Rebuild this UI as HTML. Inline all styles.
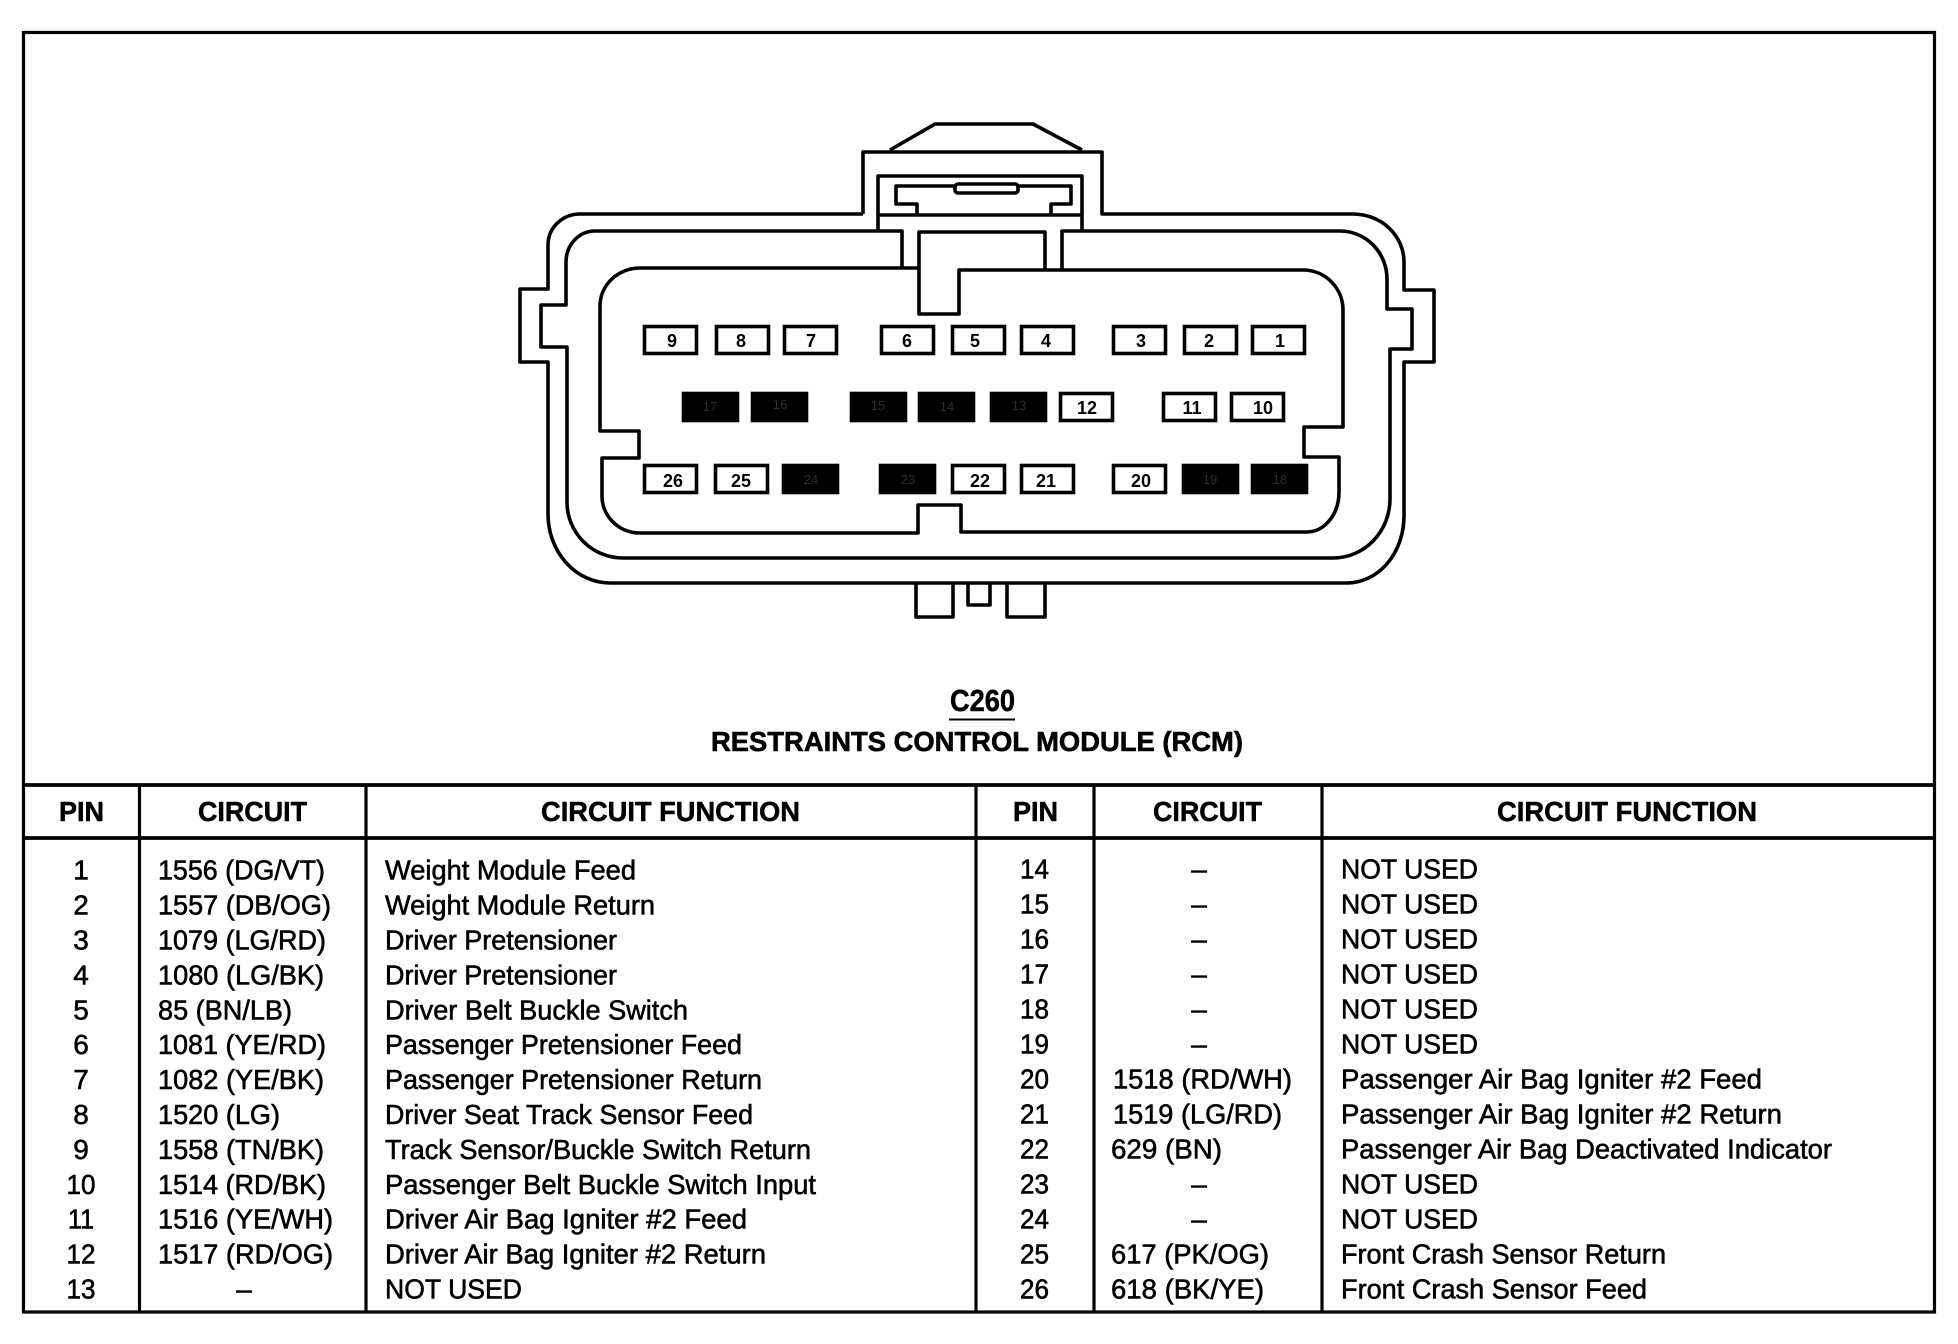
<!DOCTYPE html>
<html><head><meta charset="utf-8"><title>C260 Restraints Control Module (RCM)</title>
<style>
html,body{margin:0;padding:0;background:#fff}
svg{display:block}
text{font-family:"Liberation Sans",sans-serif;fill:#000}
.l{fill:none;stroke:#000;stroke-width:3.6;stroke-linejoin:round}
.t text{font-size:28px;stroke:#000;stroke-width:.6}
.h text{font-size:28px;font-weight:bold;stroke:#000;stroke-width:.5}
.c{text-anchor:middle}
.p rect{fill:#fff;stroke:#000;stroke-width:3.6}
.p text{font-size:18px;font-weight:bold;text-anchor:middle}
.b rect{fill:#000;stroke:#000;stroke-width:3.6}
.b text{font-size:13px;text-anchor:middle;fill:#2e2e2e}
</style></head><body>
<svg xmlns="http://www.w3.org/2000/svg" width="1958" height="1344" viewBox="0 0 1958 1344">
<rect width="1958" height="1344" fill="#fff"/>
<!-- frame and table -->
<g fill="none" stroke="#000">
<rect x="23.5" y="32.5" width="1911" height="1279.5" stroke-width="3.2"/>
<path d="M23 785H1934M23 838H1934" stroke-width="3.8"/>
<path d="M139.500 785V1312M366 785V1312M976 785V1312M1094 785V1312M1322 785V1312" stroke-width="3.2"/>
</g>
<!-- connector -->
<path class="l" d="M890 150L935 124H1033L1082 150"/>
<path class="l" d="M863 214V152H1102V214H1353A51 48 0 0 1 1404 262V290H1434V362H1404V516A57 67 0 0 1 1347 583H610A62 69 0 0 1 548 514V362H520V289H548V245A32 31 0 0 1 580 214H863"/>
<path class="l" d="M902 268V231H595A29 31 0 0 0 566 262V305H541V347H567V502A56 56 0 0 0 623 558H1333A57 59 0 0 0 1390 499V349H1412V309H1387V279A47 48 0 0 0 1340 231H1062V269"/>
<path class="l" d="M919 268H640A40 38 0 0 0 600 306V431H639V458H602V496A38 37 0 0 0 640 533H918V505H961V532H1307A32 40 0 0 0 1339 492V457H1304V427H1343V310A40 40 0 0 0 1303 270H959V314H919V232H1045V269"/>
<path class="l" d="M878 231V176H1082V231M878 215H1082"/>
<path class="l" d="M917 215V204H896V186H955M1018 186H1071V204H1051V215"/>
<rect x="955" y="184" width="63" height="9" rx="3" fill="#fff" stroke="#000" stroke-width="3.600"/>
<path class="l" d="M916 583V617H953V583M968 583V605H990V583M1007 583V617H1045V583"/>
<!-- white pins -->
<g class="p">
<rect x="644.500" y="326.500" width="52" height="27"/><text x="672" y="347">9</text>
<rect x="716.500" y="326.500" width="52" height="27"/><text x="741" y="347">8</text>
<rect x="784.500" y="326.500" width="52" height="27"/><text x="811" y="347">7</text>
<rect x="881.500" y="326.500" width="52" height="27"/><text x="907" y="347">6</text>
<rect x="952.500" y="326.500" width="52" height="27"/><text x="975" y="347">5</text>
<rect x="1021.500" y="326.500" width="52" height="27"/><text x="1046" y="347">4</text>
<rect x="1113.500" y="326.500" width="52" height="27"/><text x="1141" y="347">3</text>
<rect x="1184.500" y="326.500" width="52" height="27"/><text x="1209" y="347">2</text>
<rect x="1252.500" y="326.500" width="52" height="27"/><text x="1280" y="347">1</text>
<rect x="1060.500" y="393.500" width="52" height="27"/><text x="1087" y="414">12</text>
<rect x="1163.500" y="393.500" width="52" height="27"/><text x="1192" y="414">11</text>
<rect x="1231.500" y="393.500" width="52" height="27"/><text x="1263" y="414">10</text>
<rect x="644.500" y="465.500" width="52" height="27"/><text x="673" y="487">26</text>
<rect x="715.500" y="465.500" width="52" height="27"/><text x="741" y="487">25</text>
<rect x="952.500" y="465.500" width="52" height="27"/><text x="980" y="487">22</text>
<rect x="1021.500" y="465.500" width="52" height="27"/><text x="1046" y="487">21</text>
<rect x="1113.500" y="465.500" width="52" height="27"/><text x="1141" y="487">20</text>
</g>
<!-- black pins -->
<g class="b">
<rect x="683.500" y="393.500" width="54" height="27"/><text x="710" y="411">17</text>
<rect x="752.500" y="393.500" width="54" height="27"/><text x="780" y="409">16</text>
<rect x="851.500" y="393.500" width="54" height="27"/><text x="878" y="410">15</text>
<rect x="919.500" y="393.500" width="54" height="27"/><text x="947" y="411">14</text>
<rect x="991.500" y="393.500" width="54" height="27"/><text x="1019" y="410">13</text>
<rect x="783.500" y="465.500" width="54" height="27"/><text x="811" y="484">24</text>
<rect x="880.500" y="465.500" width="54" height="27"/><text x="908" y="484">23</text>
<rect x="1183.500" y="465.500" width="54" height="27"/><text x="1210" y="484">19</text>
<rect x="1252.500" y="465.500" width="54" height="27"/><text x="1280" y="484">18</text>
</g>
<!-- title -->
<text x="950" y="711" font-size="31" font-weight="bold" stroke="#000" stroke-width=".5" textLength="65" lengthAdjust="spacingAndGlyphs">C260</text>
<rect x="949" y="718.500" width="66" height="2" fill="#000"/>
<text x="711" y="751" font-size="28" font-weight="bold" stroke="#000" stroke-width=".6" textLength="532" lengthAdjust="spacingAndGlyphs">RESTRAINTS CONTROL MODULE (RCM)</text>
<!-- headers -->
<g class="h">
<text x="59" y="821" textLength="45" lengthAdjust="spacingAndGlyphs">PIN</text>
<text x="198" y="821" textLength="109" lengthAdjust="spacingAndGlyphs">CIRCUIT</text>
<text x="541" y="821" textLength="259" lengthAdjust="spacingAndGlyphs">CIRCUIT FUNCTION</text>
<text x="1013" y="821" textLength="45" lengthAdjust="spacingAndGlyphs">PIN</text>
<text x="1153" y="821" textLength="109" lengthAdjust="spacingAndGlyphs">CIRCUIT</text>
<text x="1497" y="821" textLength="260" lengthAdjust="spacingAndGlyphs">CIRCUIT FUNCTION</text>
</g>
<!-- table body -->
<g class="t">
<text class="c" x="81" y="879.500">1</text><text x="158" y="879.500" textLength="167" lengthAdjust="spacingAndGlyphs">1556 (DG/VT)</text><text x="385" y="879.500" textLength="251" lengthAdjust="spacingAndGlyphs">Weight Module Feed</text>
<text class="c" x="81" y="914.500">2</text><text x="158" y="914.500" textLength="173" lengthAdjust="spacingAndGlyphs">1557 (DB/OG)</text><text x="385" y="914.500" textLength="270" lengthAdjust="spacingAndGlyphs">Weight Module Return</text>
<text class="c" x="81" y="949.500">3</text><text x="158" y="949.500" textLength="168" lengthAdjust="spacingAndGlyphs">1079 (LG/RD)</text><text x="385" y="949.500" textLength="232" lengthAdjust="spacingAndGlyphs">Driver Pretensioner</text>
<text class="c" x="81" y="984.500">4</text><text x="158" y="984.500" textLength="166" lengthAdjust="spacingAndGlyphs">1080 (LG/BK)</text><text x="385" y="984.500" textLength="232" lengthAdjust="spacingAndGlyphs">Driver Pretensioner</text>
<text class="c" x="81" y="1019.500">5</text><text x="158" y="1019.500" textLength="134" lengthAdjust="spacingAndGlyphs">85 (BN/LB)</text><text x="385" y="1019.500" textLength="303" lengthAdjust="spacingAndGlyphs">Driver Belt Buckle Switch</text>
<text class="c" x="81" y="1054">6</text><text x="158" y="1054" textLength="168" lengthAdjust="spacingAndGlyphs">1081 (YE/RD)</text><text x="385" y="1054" textLength="357" lengthAdjust="spacingAndGlyphs">Passenger Pretensioner Feed</text>
<text class="c" x="81" y="1089">7</text><text x="158" y="1089" textLength="166" lengthAdjust="spacingAndGlyphs">1082 (YE/BK)</text><text x="385" y="1089" textLength="377" lengthAdjust="spacingAndGlyphs">Passenger Pretensioner Return</text>
<text class="c" x="81" y="1124">8</text><text x="158" y="1124" textLength="122" lengthAdjust="spacingAndGlyphs">1520 (LG)</text><text x="385" y="1124" textLength="368" lengthAdjust="spacingAndGlyphs">Driver Seat Track Sensor Feed</text>
<text class="c" x="81" y="1159">9</text><text x="158" y="1159" textLength="166" lengthAdjust="spacingAndGlyphs">1558 (TN/BK)</text><text x="385" y="1159" textLength="426" lengthAdjust="spacingAndGlyphs">Track Sensor/Buckle Switch Return</text>
<text class="c" x="81" y="1194" textLength="29" lengthAdjust="spacingAndGlyphs">10</text><text x="158" y="1194" textLength="168" lengthAdjust="spacingAndGlyphs">1514 (RD/BK)</text><text x="385" y="1194" textLength="431" lengthAdjust="spacingAndGlyphs">Passenger Belt Buckle Switch Input</text>
<text class="c" x="81" y="1228.500" textLength="26" lengthAdjust="spacingAndGlyphs">11</text><text x="158" y="1228.500" textLength="175" lengthAdjust="spacingAndGlyphs">1516 (YE/WH)</text><text x="385" y="1228.500" textLength="362" lengthAdjust="spacingAndGlyphs">Driver Air Bag Igniter #2 Feed</text>
<text class="c" x="81" y="1263.500" textLength="29" lengthAdjust="spacingAndGlyphs">12</text><text x="158" y="1263.500" textLength="175" lengthAdjust="spacingAndGlyphs">1517 (RD/OG)</text><text x="385" y="1263.500" textLength="381" lengthAdjust="spacingAndGlyphs">Driver Air Bag Igniter #2 Return</text>
<text class="c" x="81" y="1298.500" textLength="29" lengthAdjust="spacingAndGlyphs">13</text><text class="c" x="244" y="1298.500">–</text><text x="385" y="1298.500" textLength="137" lengthAdjust="spacingAndGlyphs">NOT USED</text>

<text class="c" x="1034.500" y="878.500" textLength="29" lengthAdjust="spacingAndGlyphs">14</text><text class="c" x="1199" y="878.500">–</text><text x="1341" y="878.500" textLength="137" lengthAdjust="spacingAndGlyphs">NOT USED</text>
<text class="c" x="1034.500" y="913.500" textLength="29" lengthAdjust="spacingAndGlyphs">15</text><text class="c" x="1199" y="913.500">–</text><text x="1341" y="913.500" textLength="137" lengthAdjust="spacingAndGlyphs">NOT USED</text>
<text class="c" x="1034.500" y="948.500" textLength="29" lengthAdjust="spacingAndGlyphs">16</text><text class="c" x="1199" y="948.500">–</text><text x="1341" y="948.500" textLength="137" lengthAdjust="spacingAndGlyphs">NOT USED</text>
<text class="c" x="1034.500" y="983.500" textLength="29" lengthAdjust="spacingAndGlyphs">17</text><text class="c" x="1199" y="983.500">–</text><text x="1341" y="983.500" textLength="137" lengthAdjust="spacingAndGlyphs">NOT USED</text>
<text class="c" x="1034.500" y="1018.500" textLength="29" lengthAdjust="spacingAndGlyphs">18</text><text class="c" x="1199" y="1018.500">–</text><text x="1341" y="1018.500" textLength="137" lengthAdjust="spacingAndGlyphs">NOT USED</text>
<text class="c" x="1034.500" y="1053.500" textLength="29" lengthAdjust="spacingAndGlyphs">19</text><text class="c" x="1199" y="1053.500">–</text><text x="1341" y="1053.500" textLength="137" lengthAdjust="spacingAndGlyphs">NOT USED</text>
<text class="c" x="1034.500" y="1088.500" textLength="29" lengthAdjust="spacingAndGlyphs">20</text><text x="1113" y="1088.500" textLength="179" lengthAdjust="spacingAndGlyphs">1518 (RD/WH)</text><text x="1341" y="1088.500" textLength="421" lengthAdjust="spacingAndGlyphs">Passenger Air Bag Igniter #2 Feed</text>
<text class="c" x="1034.500" y="1123.500" textLength="29" lengthAdjust="spacingAndGlyphs">21</text><text x="1113" y="1123.500" textLength="169" lengthAdjust="spacingAndGlyphs">1519 (LG/RD)</text><text x="1341" y="1123.500" textLength="441" lengthAdjust="spacingAndGlyphs">Passenger Air Bag Igniter #2 Return</text>
<text class="c" x="1034.500" y="1158.500" textLength="29" lengthAdjust="spacingAndGlyphs">22</text><text x="1111" y="1158.500" textLength="111" lengthAdjust="spacingAndGlyphs">629 (BN)</text><text x="1341" y="1158.500" textLength="491" lengthAdjust="spacingAndGlyphs">Passenger Air Bag Deactivated Indicator</text>
<text class="c" x="1034.500" y="1193.500" textLength="29" lengthAdjust="spacingAndGlyphs">23</text><text class="c" x="1199" y="1193.500">–</text><text x="1341" y="1193.500" textLength="137" lengthAdjust="spacingAndGlyphs">NOT USED</text>
<text class="c" x="1034.500" y="1228.500" textLength="29" lengthAdjust="spacingAndGlyphs">24</text><text class="c" x="1199" y="1228.500">–</text><text x="1341" y="1228.500" textLength="137" lengthAdjust="spacingAndGlyphs">NOT USED</text>
<text class="c" x="1034.500" y="1263.500" textLength="29" lengthAdjust="spacingAndGlyphs">25</text><text x="1111" y="1263.500" textLength="158" lengthAdjust="spacingAndGlyphs">617 (PK/OG)</text><text x="1341" y="1263.500" textLength="325" lengthAdjust="spacingAndGlyphs">Front Crash Sensor Return</text>
<text class="c" x="1034.500" y="1298.500" textLength="29" lengthAdjust="spacingAndGlyphs">26</text><text x="1111" y="1298.500" textLength="153" lengthAdjust="spacingAndGlyphs">618 (BK/YE)</text><text x="1341" y="1298.500" textLength="306" lengthAdjust="spacingAndGlyphs">Front Crash Sensor Feed</text>
</g>
</svg>
</body></html>
